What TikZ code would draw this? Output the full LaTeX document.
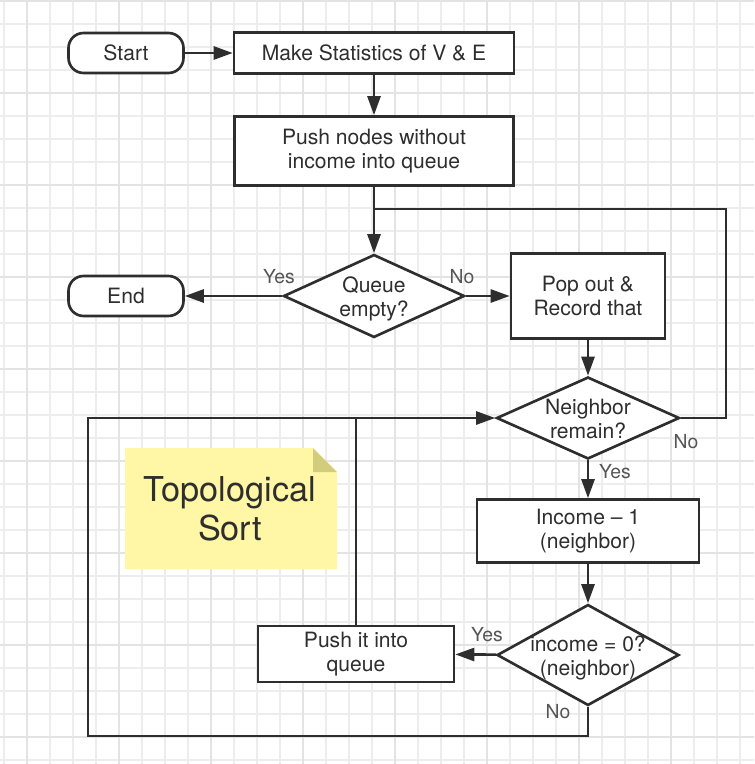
\documentclass[tikz,border=0pt]{standalone}
\usepackage{fontspec}
\setmainfont{TeX Gyre Heros}
\usepackage{tikz}
\usetikzlibrary{arrows.meta,shapes,positioning}
\definecolor{inkgray}{HTML}{2E2E2E}
\definecolor{labelgray}{HTML}{555555}
\definecolor{notefill}{HTML}{FFF7A6}
\definecolor{notefold}{HTML}{D2CD7C}
\newcommand{\dlines}[1]{\makebox[0pt]{\raisebox{-0.08cm}[\height][\depth]{\begin{tabular}{@{}c@{}}#1\end{tabular}}}}
\tikzset{
    minorgrid/.style={draw=black!7, line width=0.6pt},
    majorgrid/.style={draw=black!11, line width=0.8pt},
    terminal/.style={
                draw=inkgray,
                line width=1.5pt,
                rounded corners=0.3cm,
                minimum width=2.3cm,
                minimum height=0.8cm,
                fill=white,
                text=inkgray
            },
    process/.style={
                draw=inkgray,
                line width=1.5pt,
                align=center,
                fill=white,
                text=inkgray
            },
    decision/.style={
                diamond,
                draw=inkgray,
                line width=1.5pt,
                inner sep=0pt,
                aspect=2,
                fill=white,
                text=inkgray
            },
    branch/.style={
                text=labelgray,
                font=\fontsize{11}{13}\selectfont,
                inner sep=0pt
            },
    flow/.style={
                draw=inkgray,
                line width=1.5pt,
                -{Triangle[length=0.38cm,width=0.26cm]}
            },
    link/.style={draw=inkgray, line width=1.5pt},
}

\begin{document}
\begin{tikzpicture}[
    x=0.02cm, y=-0.02cm,
    every node/.append style={font=\fontsize{12}{13.7}\selectfont},
  ]
  % Canvas
  \useasboundingbox (0,0) rectangle (754,764);
  \fill[white] (0,0) rectangle (754,764);
  \foreach \gx in {4,27,...,754} \draw[minorgrid] (\gx,0) -- (\gx,764);
  \foreach \gy in {1,24,...,764} \draw[minorgrid] (0,\gy) -- (754,\gy);
  \foreach \gx in {27,119,...,754} \draw[majorgrid] (\gx,0) -- (\gx,764);
  \foreach \gy in {1,93,...,764} \draw[majorgrid] (0,\gy) -- (754,\gy);

  % Note
  \fill[notefill] (125,448) -- (313,448) -- (337,472) -- (337,569) -- (125,569) -- cycle;
  \fill[notefold] (313,448) -- (313,472) -- (337,472) -- cycle;
  \node[align=center, text=inkgray, font=\fontsize{19.5}{22.2}\selectfont] (title) at (230,509) {Topological\\Sort};

  % Steps
  \node[terminal] (start) at (126,53) {Start};
  \node[process, minimum width=5.6cm, minimum height=0.82cm] (mkstat) at (374,53) {Make Statistics of V \& E};
  \node[process, minimum width=5.58cm, minimum height=1.38cm] (pushsrc) at (374,151) {Push nodes without\\income into queue};
  \node[decision, minimum width=3.62cm, minimum height=1.66cm] (qempty) at (374,296) {\dlines{Queue\\empty?}};
  \node[terminal] (finish) at (126,296) {End};
  \node[process, minimum width=3.08cm, minimum height=1.7cm] (popout) at (588,296) {Pop out \&\\Record that};
  \node[decision, minimum width=3.66cm, minimum height=1.64cm] (nbr) at (588,418) {\dlines{Neighbor\\remain?}};
  \node[process, minimum width=4.44cm, minimum height=1.26cm] (incdec) at (588,531) {Income -- 1\\(neighbor)};
  \node[decision, minimum width=3.64cm, minimum height=2.02cm] (zerochk) at (588,655) {\dlines{income = 0?\\(neighbor)}};
  \node[process, minimum width=3.92cm, minimum height=1.1cm] (pushit) at (356,654) {Push it into\\queue};

  % Turning points
  \coordinate (qjoin) at (374,209);
  \coordinate (rturn) at (726,209);
  \coordinate (lturn) at (88,736);
  \coordinate (ljoin) at (356,418);

  % Connectors
  \draw[flow] (start) -- (mkstat);
  \draw[flow] (mkstat) -- (pushsrc);
  \draw[flow] (pushsrc) -- (qempty);
  \draw[flow] (qempty) -- (finish);
  \draw[flow] (qempty) -- (popout);
  \draw[flow] (popout) -- (nbr);
  \draw[link] (nbr.east) -| (rturn) -- (qjoin);
  \draw[flow] (nbr) -- (incdec);
  \draw[flow] (incdec) -- (zerochk);
  \draw[flow] (zerochk) -- (pushit);
  \draw[flow] (pushit.north) |- (nbr.west);
  \draw[link] (zerochk.south) |- (lturn) |- (ljoin);

  % Branch labels
  \node[branch] (qyes) at (279,277) {Yes};
  \node[branch] (qno) at (462,277) {No};
  \node[branch] (nno) at (686,442) {No};
  \node[branch] (nyes) at (615,472) {Yes};
  \node[branch] (zyes) at (487,635) {Yes};
  \node[branch] (zno) at (558,712) {No};
\end{tikzpicture}
\end{document}
